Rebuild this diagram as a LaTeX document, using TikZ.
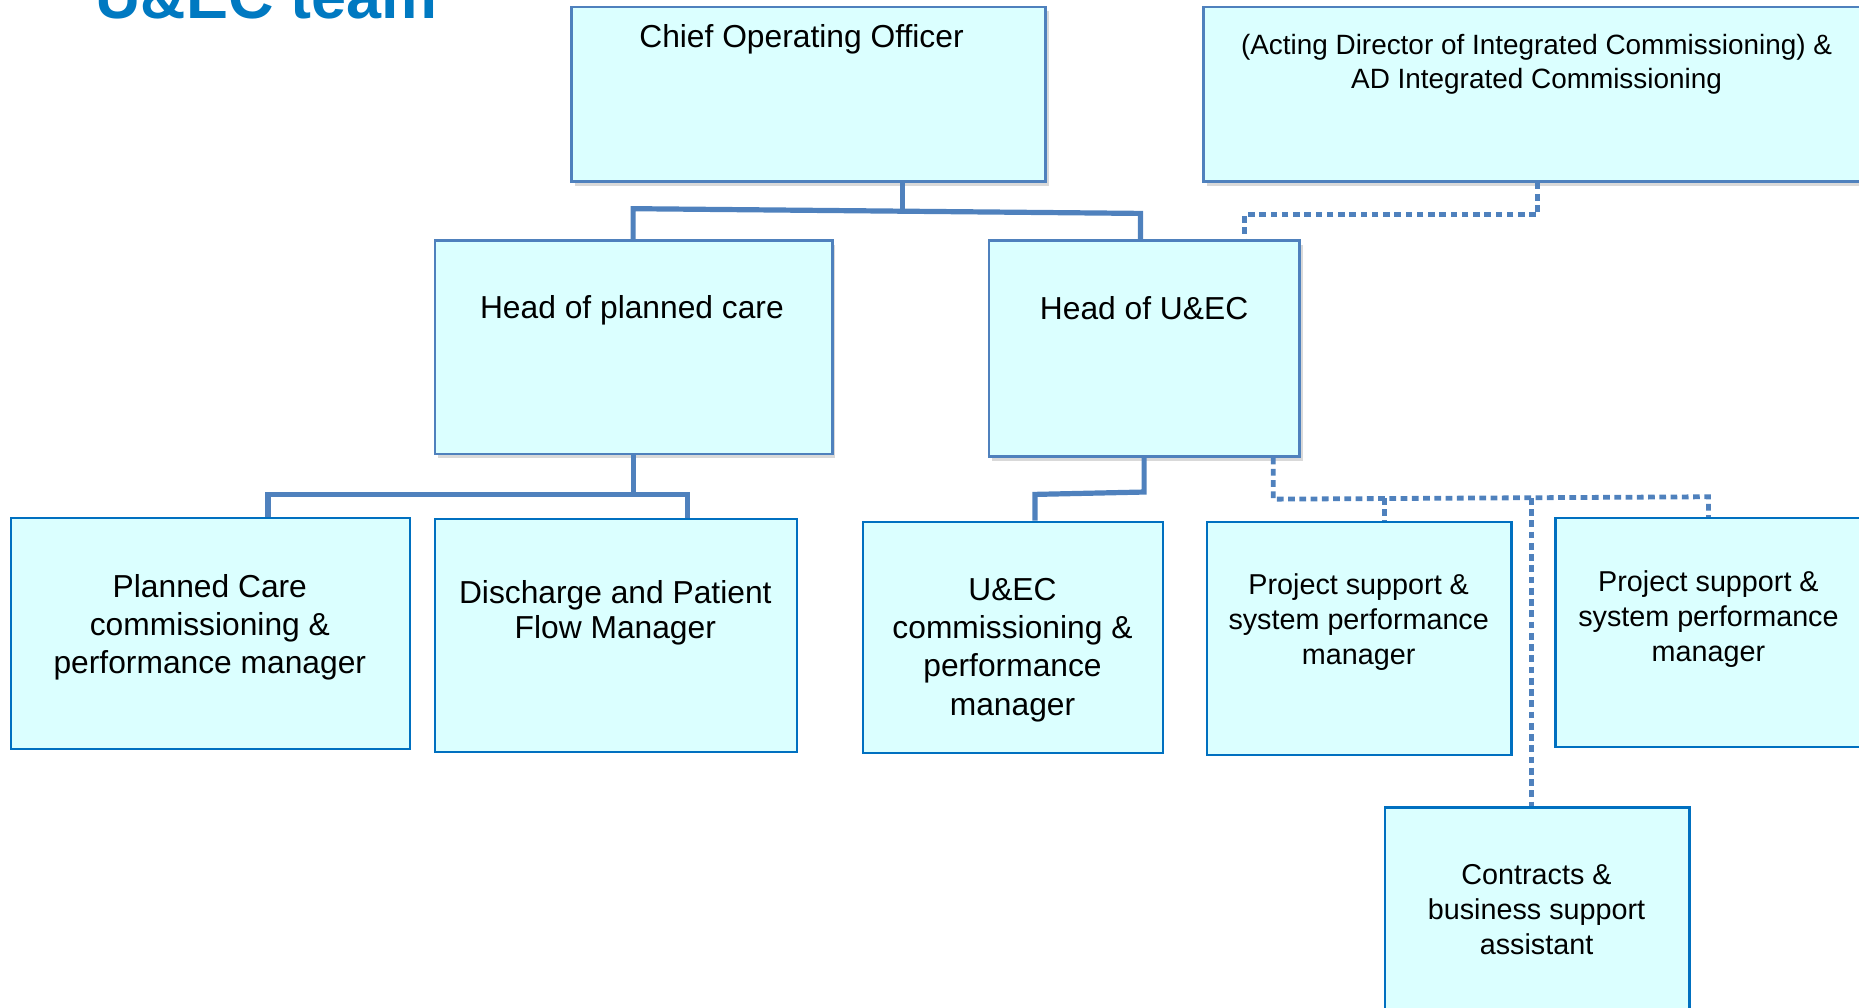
\documentclass[tikz,border=0pt]{standalone}
\usepackage{fontspec}
\setmainfont{Liberation Sans}
\usetikzlibrary{fit,shadows}
\definecolor{boxfill}{RGB}{219,255,255}
\definecolor{topline}{RGB}{79,129,189}
\definecolor{lowline}{RGB}{0,112,192}
\definecolor{linkblue}{RGB}{79,129,189}
\definecolor{titleblue}{RGB}{0,121,193}
\tikzset{
  toprole/.style={draw=topline, line width=1.2pt, fill=boxfill, inner sep=0pt,
    drop shadow={shadow xshift=1.5pt, shadow yshift=-2pt, opacity=.3}},
  lowrole/.style={draw=lowline, line width=1.1pt, fill=boxfill, inner sep=0pt},
  bigtxt/.style={align=center, inner sep=0pt, font=\fontsize{15.25}{18.4}\selectfont},
  smalltxt/.style={align=center, inner sep=0pt, font=\fontsize{13.8}{16.8}\selectfont},
  solidlink/.style={draw=linkblue, line width=2.5pt},
  dotlink/.style={draw=linkblue, line width=2.3pt, dash pattern=on 3.2pt off 2.2pt},
}
\begin{document}
\begin{tikzpicture}[x=0.02cm, y=-0.02cm]
	\clip (0,0) rectangle (1568,850);
	\node[anchor=base west, text=titleblue, inner sep=0pt, font=\fontsize{30.2}{36}\selectfont\bfseries] (title) at (80,16) {U\&EC team};

	\node[toprole, fit={(482,6) (882,153)}] (coo) {};
	\node[toprole, fit={(1015,6) (1590,153)}] (acting) {};
	\node[toprole, fit={(367,203) (702,383)}] (hplan) {};
	\node[toprole, fit={(834,203) (1096,385)}] (huec) {};
	\node[lowrole, fit={(9,437) (346,632)}] (pcm) {};
	\node[lowrole, fit={(367,438) (672,634)}] (dpf) {};
	\node[lowrole, fit={(728,440) (981,635)}] (uecm) {};
	\node[lowrole, fit={(1018,440) (1275,637)}] (ps1) {};
	\node[lowrole, fit={(1312,437) (1590,630)}] (ps2) {};
	\node[lowrole, fit={(1168,681) (1425,880)}] (cba) {};

	\node[bigtxt] (cootxt) at (676,33) {Chief Operating Officer};
	\node[smalltxt, font=\fontsize{13.4}{16.5}\selectfont] (actingtxt) at (1296,54) {(Acting Director of Integrated Commissioning) \&\\AD Integrated Commissioning};
	\node[bigtxt] (hplantxt) at (533,262) {Head of planned care};
	\node[bigtxt] (huectxt) at (965,260) {Head of U\&EC};
	\node[bigtxt] (pcmtxt) at (177,529) {Planned Care\\commissioning \&\\performance manager};
	\node[bigtxt, font=\fontsize{15.25}{17.1}\selectfont] (dpftxt) at (519,517) {Discharge and Patient\\Flow Manager};
	\node[bigtxt] (uecmtxt) at (854,548) {U\&EC\\commissioning \&\\performance\\manager};
	\node[smalltxt] (ps1txt) at (1146,525) {Project support \&\\system performance\\manager};
	\node[smalltxt] (ps2txt) at (1441,522) {Project support \&\\system performance\\manager};
	\node[smalltxt] (cbatxt) at (1296,767) {Contracts \&\\business support\\assistant};

	\coordinate (cooJ) at (761,178);
	\coordinate (cooL) at (534,176);
	\coordinate (cooR) at (962,180);
	\draw[solidlink] (coo.south -| cooJ) -- (cooJ);
	\draw[solidlink] (hplan.north -| cooL) -- (cooL) -- (cooR) -- (huec.north -| cooR);

	\coordinate (planJ) at (534,417);
	\coordinate (planL) at (226,417);
	\coordinate (planR) at (580,417);
	\draw[solidlink] (hplan.south -| planJ) -- (planJ);
	\draw[solidlink] (pcm.north -| planL) -- (planL) -- (planR) -- (dpf.north -| planR);

	\coordinate (uecT) at (965,415);
	\coordinate (uecB) at (873,417);
	\draw[solidlink] (huec.south -| uecT) -- (uecT) -- (uecB) -- (uecm.north -| uecB);

	\coordinate (actR) at (1297,181);
	\coordinate (actL) at (1050,181);
	\draw[dotlink] (acting.south -| actR) -- (actR) -- (actL) -- (huec.north -| actL);

	\coordinate (supL) at (1074,421);
	\coordinate (supR) at (1441,419);
	\coordinate (supA) at (1168,420);
	\coordinate (supB) at (1292,420);
	\draw[dotlink] (huec.south -| supL) -- (supL) -- (supR) -- (ps2.north -| supR);
	\draw[dotlink] (supA) -- (ps1.north -| supA);
	\draw[dotlink] (supB) -- (cba.north -| supB);
\end{tikzpicture}
\end{document}
